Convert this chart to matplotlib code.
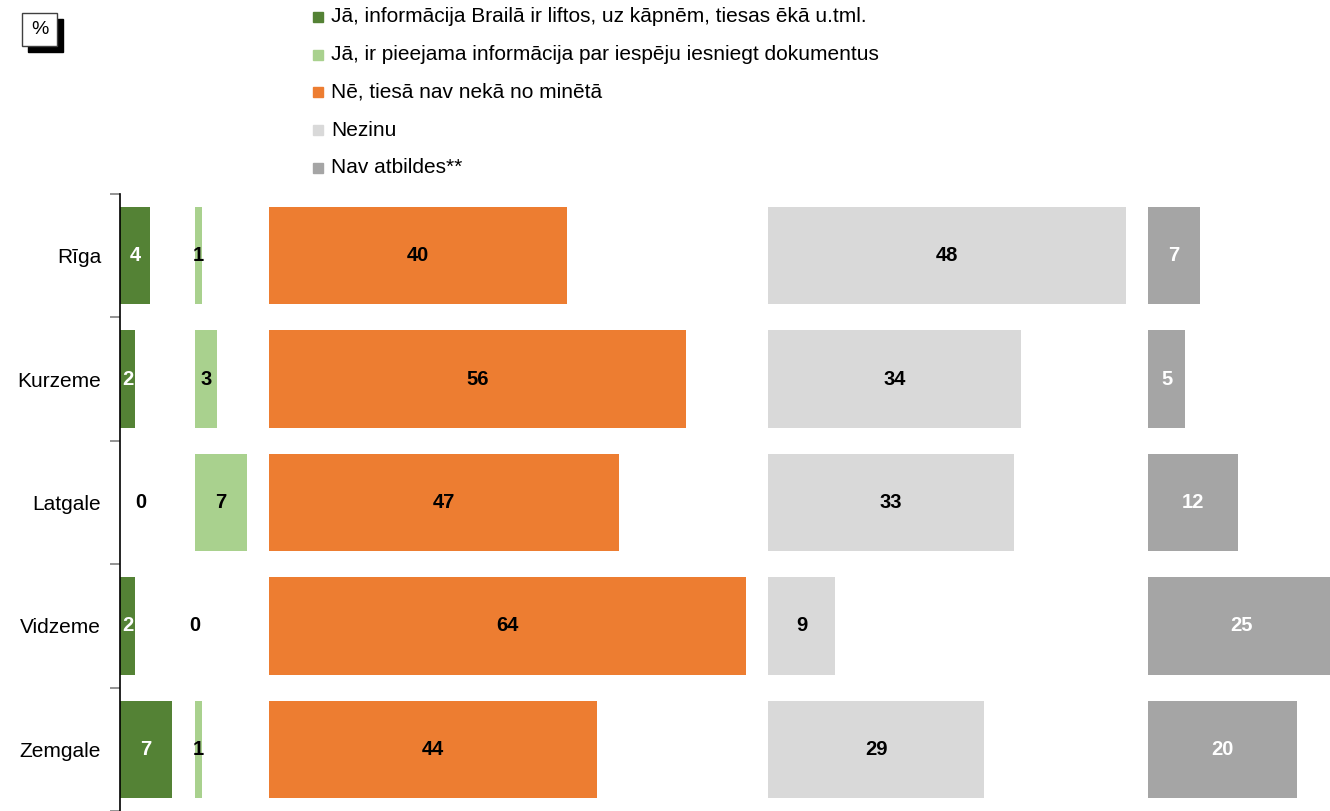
import matplotlib
matplotlib.use("Agg")
import matplotlib.pyplot as plt
from matplotlib.patches import Rectangle

plt.rcParams['font.family'] = ['Liberation Sans', 'DejaVu Sans']

# regions (top to bottom)
regioni = ["Rīga", "Kurzeme", "Latgale", "Vidzeme", "Zemgale"]

# answer series, %
series = [
    "Jā, informācija Brailā ir liftos, uz kāpnēm, tiesas ēkā u.tml.",
    "Jā, ir pieejama informācija par iespēju iesniegt dokumentus",
    "Nē, tiesā nav nekā no minētā",
    "Nezinu",
    "Nav atbildes**",
]
braila = [4, 2, 0, 2, 7]
dokumenti = [1, 3, 7, 0, 1]
nekas = [40, 56, 47, 64, 44]
nezinu = [48, 34, 33, 9, 29]
nav_atb = [7, 5, 12, 25, 20]

vertibas = [braila, dokumenti, nekas, nezinu, nav_atb]
krasas = ["#548235", "#A9D18E", "#ED7D31", "#D9D9D9", "#A5A5A5"]
teksta_krasas = ["white", "black", "black", "black", "white"]

W, H = 1330, 811
atstarpe = 3
kopa = sum(max(v) for v in vertibas) + atstarpe * (len(vertibas) - 1)

fig = plt.figure(figsize=(W / 100, H / 100), dpi=100)
# the last panel runs a little past the right edge, as in the source
ax = fig.add_axes([120 / W, 0, kopa * 7.45 / W, (H - 194) / H])

nobide = 0
y = list(range(len(regioni)))
for j, vals in enumerate(vertibas):
    ax.barh(y, vals, left=nobide, height=0.79, color=krasas[j], zorder=2)
    for i, v in enumerate(vals):
        if v > 0:
            xt = nobide + v / 2
        else:
            xt = nobide + (2.8 if nobide == 0 else 0)
        krasa = teksta_krasas[j] if v > 0 else "black"
        ax.text(xt, i, str(v), ha="center", va="center", fontsize=14.5,
                fontweight="bold", color=krasa, zorder=3)
    nobide += max(vals) + atstarpe

ax.set_xlim(0, kopa)
ax.set_ylim(4.476, -0.5)

for s in ["top", "right", "bottom"]:
    ax.spines[s].set_visible(False)
ax.spines["left"].set_color("black")
ax.spines["left"].set_linewidth(1.2)
ax.set_xticks([])
ax.set_yticks(y)
ax.set_yticklabels(regioni, fontsize=15)
ax.tick_params(axis="y", which="major", length=0, pad=13.5)
ax.set_yticks([k - 0.5 for k in range(len(regioni) + 1)], minor=True)
ax.tick_params(axis="y", which="minor", length=7, color="#808080", width=1.2)

# legend
for j, nos in enumerate(series):
    yc = 1 - (17 + j * 37.7) / H
    fig.patches.append(Rectangle((313 / W, yc - 5 / H), 10 / W, 10 / H,
                                 transform=fig.transFigure, color=krasas[j]))
    fig.text(331 / W, yc, nos, fontsize=15, va="center", ha="left")

# "%" box with shadow
fig.patches.append(Rectangle((28 / W, 1 - 52 / H), 35 / W, 33 / H,
                             transform=fig.transFigure, facecolor="black",
                             edgecolor="black"))
fig.patches.append(Rectangle((22 / W, 1 - 46 / H), 35 / W, 33 / H,
                             transform=fig.transFigure, facecolor="white",
                             edgecolor="#404040", linewidth=1))
fig.text(39.5 / W, 1 - 30 / H, "%", fontsize=14, ha="center", va="center")

fig.savefig("out.png", dpi=100)
